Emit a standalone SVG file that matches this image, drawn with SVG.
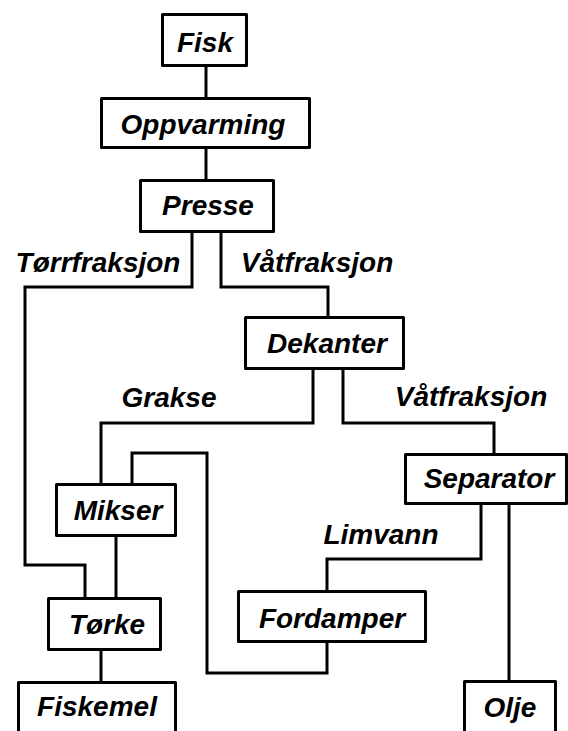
<svg xmlns="http://www.w3.org/2000/svg" width="568" height="731" viewBox="0 0 568 731">
<style>
  .box { fill: #ffffff; stroke: #000000; stroke-width: 3; stroke-linejoin: round; }
  .lbl { font-family: "Liberation Sans", Arial, sans-serif; font-size: 28px; font-style: italic; font-weight: bold; fill: #000000; text-anchor: middle; }
  .conn { fill: none; stroke: #000000; stroke-width: 3; stroke-linejoin: miter; }
</style>
<rect x="0" y="0" width="568" height="731" fill="#ffffff"/>
<g id="connectors">
  <path class="conn" d="M206 67 V97"/>
  <path class="conn" d="M206 149 V179"/>
  <path class="conn" d="M192 233 V287 H25 V565 H85 V597"/>
  <path class="conn" d="M221 233 V287 H328 V316"/>
  <path class="conn" d="M313 370 V423 H101 V483"/>
  <path class="conn" d="M343 370 V423 H494 V453"/>
  <path class="conn" d="M481 505 V559 H327 V590"/>
  <path class="conn" d="M509 505 V680"/>
  <path class="conn" d="M327 643 V673 H207 V453 H132 V483"/>
  <path class="conn" d="M116 537 V597"/>
  <path class="conn" d="M101 651 V681"/>
  <text class="lbl" x="98" y="272">Tørrfraksjon</text>
  <text class="lbl" x="317" y="272">Våtfraksjon</text>
  <text class="lbl" x="169" y="407">Grakse</text>
  <text class="lbl" x="471" y="406">Våtfraksjon</text>
  <text class="lbl" x="381" y="544">Limvann</text>
</g>
<g id="fisk">
  <rect class="box" x="162.5" y="14.5" width="84" height="51"/>
  <text class="lbl" x="205" y="52">Fisk</text>
</g>
<g id="oppvarming">
  <rect class="box" x="101.5" y="98.5" width="208" height="49"/>
  <text class="lbl" x="203" y="134">Oppvarming</text>
</g>
<g id="presse">
  <rect class="box" x="140.5" y="180.5" width="133" height="51"/>
  <text class="lbl" x="208" y="215">Presse</text>
</g>
<g id="dekanter">
  <rect class="box" x="245.5" y="317.5" width="158" height="51"/>
  <text class="lbl" x="327" y="353">Dekanter</text>
</g>
<g id="separator">
  <rect class="box" x="405.5" y="454.5" width="161" height="49"/>
  <text class="lbl" x="489" y="488">Separator</text>
</g>
<g id="mikser">
  <rect class="box" x="56.5" y="484.5" width="119" height="51"/>
  <text class="lbl" x="118" y="520">Mikser</text>
</g>
<g id="fordamper">
  <rect class="box" x="238.5" y="591.5" width="187" height="50"/>
  <text class="lbl" x="332" y="628">Fordamper</text>
</g>
<g id="torke">
  <rect class="box" x="48.5" y="598.5" width="112" height="51"/>
  <text class="lbl" x="107" y="634">Tørke</text>
</g>
<g id="fiskemel">
  <rect class="box" x="18.5" y="682.5" width="157" height="60"/>
  <text class="lbl" x="97" y="716">Fiskemel</text>
</g>
<g id="olje">
  <rect class="box" x="464.5" y="681.5" width="91" height="60"/>
  <text class="lbl" x="510" y="717">Olje</text>
</g>
</svg>
